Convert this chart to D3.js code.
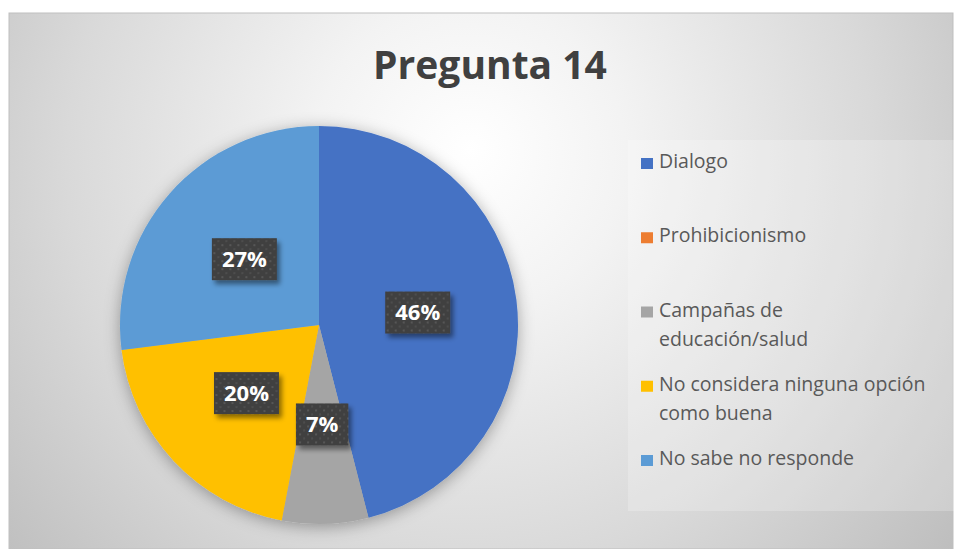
<!DOCTYPE html>
<html>
<head>
<meta charset="utf-8">
<script src="https://cdn.jsdelivr.net/npm/d3@7"></script>
<style>
  html, body { margin: 0; padding: 0; background: #ffffff; }
  svg { display: block; }
</style>
</head>
<body>
<script>
// Survey answers for question 14 (percent of respondents)
const categories = ["Dialogo", "Prohibicionismo", "Campañas de educación/salud",
                    "No considera ninguna opción como buena", "No sabe no responde"];
const values = [46, 0, 7, 20, 27];
const colors = ["#4472C4", "#ED7D31", "#A5A5A5", "#FFC000", "#5B9BD5"];
const legendLines = [["Dialogo"], ["Prohibicionismo"], ["Campañas de", "educación/salud"],
                     ["No considera ninguna opción", "como buena"], ["No sabe no responde"]];
const title = "Pregunta 14";

const W = 958, H = 549;
const svg = d3.select("body").append("svg").attr("width", W).attr("height", H);
const defs = svg.append("defs");

// chart-area background: radial white-to-grey wash
const bg = defs.append("radialGradient").attr("id", "bgGrad")
  .attr("gradientUnits", "userSpaceOnUse")
  .attr("cx", 470).attr("cy", 170).attr("r", 620)
  .attr("fx", 470).attr("fy", 150);
bg.append("stop").attr("offset", 0).attr("stop-color", "#ffffff");
bg.append("stop").attr("offset", 0.25).attr("stop-color", "#f3f3f3");
bg.append("stop").attr("offset", 0.65).attr("stop-color", "#d9d9d9");
bg.append("stop").attr("offset", 1).attr("stop-color", "#bdbdbd");

// soft glow under the pie
const glow = defs.append("filter").attr("id", "pieGlow")
  .attr("x", "-20%").attr("y", "-20%").attr("width", "140%").attr("height", "140%");
glow.append("feGaussianBlur").attr("in", "SourceAlpha").attr("stdDeviation", 8).attr("result", "b");
glow.append("feOffset").attr("in", "b").attr("dx", 0).attr("dy", 3).attr("result", "o");
glow.append("feFlood").attr("flood-color", "#000").attr("flood-opacity", 0.33);
glow.append("feComposite").attr("in2", "o").attr("operator", "in").attr("result", "s");
const gm = glow.append("feMerge");
gm.append("feMergeNode").attr("in", "s");
gm.append("feMergeNode").attr("in", "SourceGraphic");

// drop shadow for the value boxes
const shadow = defs.append("filter").attr("id", "boxShadow")
  .attr("x", "-30%").attr("y", "-30%").attr("width", "170%").attr("height", "170%");
shadow.append("feGaussianBlur").attr("in", "SourceAlpha").attr("stdDeviation", 2.5).attr("result", "b");
shadow.append("feOffset").attr("in", "b").attr("dx", 3).attr("dy", 4).attr("result", "o");
shadow.append("feFlood").attr("flood-color", "#000").attr("flood-opacity", 0.45);
shadow.append("feComposite").attr("in2", "o").attr("operator", "in").attr("result", "s");
const sm = shadow.append("feMerge");
sm.append("feMergeNode").attr("in", "s");
sm.append("feMergeNode").attr("in", "SourceGraphic");

// dotted texture of the value boxes
const pat = defs.append("pattern").attr("id", "dots")
  .attr("patternUnits", "userSpaceOnUse").attr("width", 8).attr("height", 8);
pat.append("rect").attr("width", 8).attr("height", 8).attr("fill", "#404040");
pat.append("rect").attr("x", 1).attr("y", 1).attr("width", 2).attr("height", 2).attr("fill", "#575757");
pat.append("rect").attr("x", 5).attr("y", 5).attr("width", 2).attr("height", 2).attr("fill", "#4e4e4e");

// chart area
svg.append("rect").attr("x", 9).attr("y", 13).attr("width", 944).attr("height", 536)
  .attr("fill", "url(#bgGrad)").attr("stroke", "#bfbfbf").attr("stroke-width", 1);

// title
svg.append("text").attr("x", 490).attr("y", 79)
  .attr("text-anchor", "middle")
  .style("font-family", "'Open Sans', sans-serif").style("font-weight", 700)
  .style("font-size", "39px").attr("fill", "#404040")
  .text(title);

// pie
const cx = 319, cy = 325, R = 199;
const pie = d3.pie().sort(null).value(d => d.v);
const data = categories.map((c, i) => ({ c, v: values[i], color: colors[i] }));
const arcs = pie(data);
const arc = d3.arc().innerRadius(0).outerRadius(R);
const labelArc = d3.arc().innerRadius(R * 0.5).outerRadius(R * 0.5);

const pg = svg.append("g").attr("transform", `translate(${cx},${cy})`);
pg.append("g").attr("filter", "url(#pieGlow)")
  .selectAll("path").data(arcs).join("path")
  .attr("d", arc).attr("fill", d => d.data.color);

// value labels
const lg = pg.selectAll("g.lbl").data(arcs.filter(d => d.data.v > 0)).join("g")
  .attr("class", "lbl")
  .attr("transform", d => `translate(${labelArc.centroid(d)})`);
lg.each(function(d) {
  const g = d3.select(this);
  const t = g.append("text").attr("text-anchor", "middle").attr("dy", "0.36em")
    .style("font-family", "'Open Sans', sans-serif").style("font-weight", 700)
    .style("font-size", "22px").attr("fill", "#ffffff")
    .text(d.data.v + "%");
  const w = t.node().getComputedTextLength() + 20;
  g.insert("rect", "text").attr("x", -w / 2).attr("y", -21).attr("width", w).attr("height", 42)
    .attr("fill", "url(#dots)").attr("filter", "url(#boxShadow)");
});

// legend
svg.append("rect").attr("x", 628).attr("y", 140).attr("width", 327).attr("height", 371)
  .attr("fill", "#ffffff").attr("fill-opacity", 0.22);

const rowY = d3.scalePoint().domain(d3.range(categories.length)).range([168, 465]);
const leg = svg.append("g").selectAll("g").data(categories).join("g")
  .attr("transform", (d, i) => `translate(0,${rowY(i)})`);
leg.append("rect").attr("x", 641).attr("y", -10).attr("width", 12).attr("height", 11)
  .attr("fill", (d, i) => colors[i]);
leg.append("text")
  .style("font-family", "'Open Sans', sans-serif").style("font-size", "19.5px")
  .attr("fill", "#595959")
  .selectAll("tspan").data((d, i) => legendLines[i]).join("tspan")
  .attr("x", 659).attr("y", (d, j) => j * 29.5)
  .text(d => d);
</script>
</body>
</html>
